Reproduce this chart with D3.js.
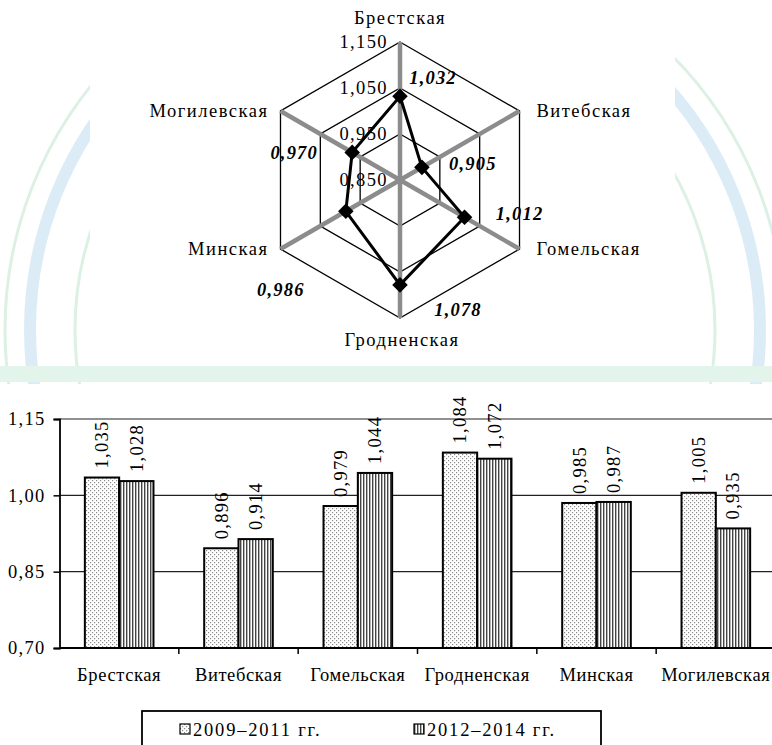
<!DOCTYPE html>
<html><head><meta charset="utf-8">
<script src="https://cdn.jsdelivr.net/npm/d3@7"></script>
<style>
html,body{margin:0;padding:0;background:#fff;}
svg, svg text{font-family:"Liberation Serif","Times New Roman",Tinos,serif !important;}
svg text{fill:#000;}
</style></head>
<body>
<svg id="chart" width="772" height="745"></svg>
<script>
// ---- data ----
const regions = ["Брестская","Витебская","Гомельская","Гродненская","Минская","Могилевская"];
const radarValues = [1.032, 0.905, 1.012, 1.078, 0.986, 0.970];
const radarTicks = [0.850, 0.950, 1.050, 1.150];
const series = ["2009–2011 гг.","2012–2014 гг."];
const values2009 = [1.035, 0.896, 0.979, 1.084, 0.985, 1.005];
const values2012 = [1.028, 0.914, 1.044, 1.072, 0.987, 0.935];
const barTicks = [0.70, 0.85, 1.00, 1.15];

const fmt3 = v => d3.format(".3f")(v).replace(".", ",");
const fmt2 = v => d3.format(".2f")(v).replace(".", ",");

const svg = d3.select("#chart");
const defs = svg.append("defs");

// patterns
const p1 = defs.append("pattern").attr("id","dots").attr("patternUnits","userSpaceOnUse").attr("width",4).attr("height",4);
p1.append("rect").attr("width",4).attr("height",4).attr("fill","#fff");
p1.append("rect").attr("x",0).attr("y",0).attr("width",1.2).attr("height",1.2).attr("fill","#8a8a8a");
p1.append("rect").attr("x",2).attr("y",2).attr("width",1.2).attr("height",1.2).attr("fill","#8a8a8a");
const p2 = defs.append("pattern").attr("id","vlines").attr("patternUnits","userSpaceOnUse").attr("width",3).attr("height",3);
p2.append("rect").attr("width",3).attr("height",3).attr("fill","#fff");
p2.append("rect").attr("x",0).attr("y",0).attr("width",1.4).attr("height",3).attr("fill","#444");

// ---- faint background decoration ----
const bg = svg.append("g");
bg.append("circle").attr("cx",395).attr("cy",330).attr("r",365).attr("fill","none").attr("stroke","#dcecf6").attr("stroke-width",12);
bg.append("circle").attr("cx",395).attr("cy",330).attr("r",390).attr("fill","none").attr("stroke","#dcf1e3").attr("stroke-width",3);
bg.append("circle").attr("cx",395).attr("cy",330).attr("r",320).attr("fill","none").attr("stroke","#dcf1e3").attr("stroke-width",3);
bg.append("rect").attr("x",0).attr("y",366).attr("width",772).attr("height",16).attr("fill","#e3f4ea");
bg.append("rect").attr("x",90).attr("y",0).attr("width",585).attr("height",365).attr("fill","#fff");
bg.append("rect").attr("x",0).attr("y",384).attr("width",772).attr("height",361).attr("fill","#fff");

// ---- radar chart ----
const cx = 400, cy = 180, R = 138;
const rScale = d3.scaleLinear().domain([0.85, 1.15]).range([0, R]);
const angle = i => -Math.PI/2 + i * Math.PI/3;
const pt = (i, v) => [cx + rScale(v)*Math.cos(angle(i)), cy + rScale(v)*Math.sin(angle(i))];
const radar = svg.append("g");
const lineGen = d3.line();

// rings
radarTicks.slice(1).forEach(t => {
  const pts = regions.map((_, i) => pt(i, t));
  radar.append("path").attr("d", lineGen(pts) + "Z").attr("fill","none").attr("stroke","#000").attr("stroke-width",1.3);
});
// spokes
regions.forEach((_, i) => {
  const [x, y] = pt(i, radarTicks[radarTicks.length-1]);
  radar.append("line").attr("x1",cx).attr("y1",cy).attr("x2",x).attr("y2",y)
    .attr("stroke","#8c8c8c").attr("stroke-width",4.5);
});
// tick labels
radarTicks.forEach(t => {
  radar.append("text").attr("x", cx - 12).attr("y", cy - rScale(t)).attr("dy","0.35em")
    .attr("text-anchor","end").style("font-size","18.5px").style("letter-spacing","1.4px")
    .text(fmt3(t));
});
// series
const dataPts = radarValues.map((v, i) => pt(i, v));
radar.append("path").attr("d", lineGen(dataPts) + "Z").attr("fill","none").attr("stroke","#000").attr("stroke-width",3);
radar.selectAll("rect.mk").data(dataPts).join("rect").attr("class","mk")
  .attr("x", d => d[0]-5.5).attr("y", d => d[1]-5.5).attr("width",11).attr("height",11)
  .attr("transform", d => `rotate(45,${d[0]},${d[1]})`).attr("fill","#000");
// data labels (offsets relative to each point)
const labelOffsets = [[33,-19],[51,-4],[55,-4],[58,25],[-65,78],[-58,0]];
radar.selectAll("text.dl").data(radarValues).join("text").attr("class","dl")
  .attr("x", (d, i) => dataPts[i][0] + labelOffsets[i][0])
  .attr("y", (d, i) => dataPts[i][1] + labelOffsets[i][1])
  .attr("dy","0.35em").attr("text-anchor","middle")
  .style("font-size","18.5px").style("font-weight","bold").style("font-style","italic").style("letter-spacing","1.2px")
  .text(d => fmt3(d));
// category labels
const outer = regions.map((_, i) => pt(i, 1.15));
const catPos = [
  {dx:0, dy:-24, a:"middle"}, {dx:17, dy:0, a:"start"}, {dx:17, dy:0, a:"start"},
  {dx:2, dy:22, a:"middle"}, {dx:-12, dy:0, a:"end"}, {dx:-12, dy:0, a:"end"}];
radar.selectAll("text.cat").data(regions).join("text").attr("class","cat")
  .attr("x", (d, i) => outer[i][0] + catPos[i].dx)
  .attr("y", (d, i) => outer[i][1] + catPos[i].dy)
  .attr("dy","0.35em").attr("text-anchor", (d, i) => catPos[i].a)
  .style("font-size","18.5px").style("letter-spacing","1.5px")
  .text(d => d);

// ---- bar chart ----
const y = d3.scaleLinear().domain([0.70, 1.15]).range([648, 419]);
const x = d3.scaleBand().domain(regions).range([59.5, 775.5]).paddingInner(0.425).paddingOuter(0.2125);
const xs = d3.scaleBand().domain(series).range([0, x.bandwidth()]);
const bars = svg.append("g");

// gridlines
barTicks.slice(1).forEach(t => {
  bars.append("line").attr("x1",59.5).attr("x2",772).attr("y1",y(t)).attr("y2",y(t))
    .attr("stroke","#222").attr("stroke-width",1.2);
});
const barData = regions.map((r, i) => [
  {r, s: series[0], v: values2009[i], fill: "url(#dots)"},
  {r, s: series[1], v: values2012[i], fill: "url(#vlines)"}]).flat();
bars.selectAll("rect.bar").data(barData).join("rect").attr("class","bar")
  .attr("x", d => x(d.r) + xs(d.s)).attr("y", d => y(d.v))
  .attr("width", xs.bandwidth()).attr("height", d => y(0.70) - y(d.v))
  .attr("fill", d => d.fill).attr("stroke","#000").attr("stroke-width",2);
bars.selectAll("text.val").data(barData).join("text").attr("class","val")
  .attr("transform", d => `translate(${x(d.r) + xs(d.s) + xs.bandwidth()/2},${y(d.v) - 9}) rotate(-90)`)
  .attr("dy","0.35em").attr("text-anchor","start")
  .style("font-size","18.5px").style("letter-spacing","1.3px")
  .text(d => fmt3(d.v));

// axes
const yAxis = bars.append("g").attr("transform","translate(59.5,0)")
  .call(d3.axisLeft(y).tickValues(barTicks).tickSize(6).tickPadding(8).tickFormat(fmt2));
yAxis.attr("font-family", null);
yAxis.select(".domain").attr("stroke","#000").attr("stroke-width",1.8);
yAxis.selectAll(".tick line").attr("stroke","#000").attr("stroke-width",1.5);
yAxis.selectAll(".tick text").style("font-size","18.5px").style("letter-spacing","1.3px");

const bounds = regions.map(r => x(r) - x.step()*x.paddingOuter());
bars.append("line").attr("x1",59.5).attr("x2",772).attr("y1",y(0.70)).attr("y2",y(0.70))
  .attr("stroke","#000").attr("stroke-width",1.8);
bars.selectAll("line.xt").data(bounds.slice(1)).join("line").attr("class","xt")
  .attr("x1", d => d).attr("x2", d => d).attr("y1", y(0.70)).attr("y2", y(0.70) + 6)
  .attr("stroke","#000").attr("stroke-width",1.5);
bars.selectAll("text.xl").data(regions).join("text").attr("class","xl")
  .attr("x", d => x(d) + x.bandwidth()/2).attr("y", 681)
  .attr("text-anchor","middle").style("font-size","18.5px").style("letter-spacing","0.6px")
  .text(d => d);

// legend
const lg = svg.append("g");
lg.append("rect").attr("x",142).attr("y",711).attr("width",459).attr("height",60)
  .attr("fill","#fff").attr("stroke","#000").attr("stroke-width",1.8);
const legX = [180, 414];
series.forEach((s, i) => {
  lg.append("rect").attr("x", legX[i]).attr("y", 724).attr("width", 10).attr("height", 10)
    .attr("fill", i === 0 ? "url(#dots)" : "url(#vlines)").attr("stroke","#000").attr("stroke-width",1.2);
  lg.append("text").attr("x", legX[i] + 13).attr("y", 736)
    .style("font-size","18.5px").style("letter-spacing","1.8px").text(s);
});
</script>
</body></html>
